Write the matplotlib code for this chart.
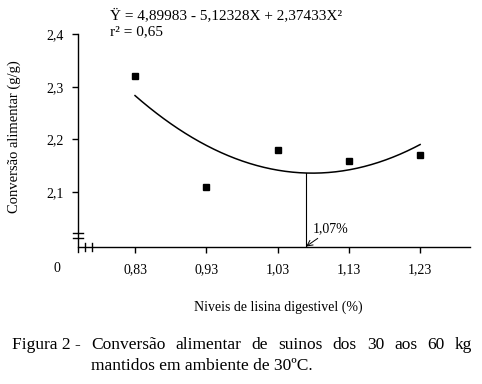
import matplotlib
matplotlib.use('Agg')
import matplotlib.pyplot as plt
import numpy as np

plt.rcParams['font.family'] = ['Liberation Serif', 'DejaVu Serif']

# dados
lisina = [0.83, 0.93, 1.03, 1.13, 1.23]
conversao = [2.32, 2.11, 2.18, 2.16, 2.17]
coef = [4.89983, -5.12328, 2.37433]   # Y = a + bX + cX^2
x_otimo = 1.07
xticks = [0.83, 0.93, 1.03, 1.13, 1.23]
xticklabels = ['0,83', '0,93', '1,03', '1,13', '1,23']
yticks = [2.1, 2.2, 2.3, 2.4]
yticklabels = ['2,1', '2,2', '2,3', '2,4']

W, H = 482, 384
fig = plt.figure(figsize=(W / 100, H / 100), dpi=100)
ax = fig.add_axes([78 / W, 137 / H, 392 / W, 213 / H])

ax.plot(lisina, conversao, 's', color='black', markersize=4.5)
xs = np.linspace(0.83, 1.23, 200)
ys = coef[0] + coef[1] * xs + coef[2] * xs ** 2
ax.plot(xs, ys, color='black', lw=1.1)
y_min = coef[0] + coef[1] * x_otimo + coef[2] * x_otimo ** 2
ax.plot([x_otimo, x_otimo], [1.996, y_min], color='black', lw=0.8)

ax.set_xlim(0.75, 1.30)
ax.set_ylim(1.996, 2.4)
ax.set_xticks(xticks)
ax.set_xticklabels(xticklabels)
ax.set_yticks(yticks)
ax.set_yticklabels(yticklabels)
ax.tick_params(direction='out', length=4, width=1, labelsize=10)
ax.tick_params(axis='x', pad=8)
ax.tick_params(axis='y', pad=6)
for s in ['top', 'right']:
    ax.spines[s].set_visible(False)
for s in ['left', 'bottom']:
    ax.spines[s].set_linewidth(1.0)
ax.spines['left'].set_bounds(1.987, 2.4)

ax.annotate('1,07%', xy=(x_otimo, 1.997), xytext=(x_otimo + 0.01, 2.03),
            fontsize=10, va='center',
            arrowprops=dict(arrowstyle='->', lw=0.7, color='black',
                            shrinkA=0, shrinkB=0))

# marcas de quebra dos eixos
trans = ax.transAxes
for yy in [0.066, 0.043]:
    ax.plot([-0.013, 0.013], [yy, yy], color='black', lw=1, transform=trans, clip_on=False)
for xx in [0.018, 0.036]:
    ax.plot([xx, xx], [-0.02, 0.02], color='black', lw=1, transform=trans, clip_on=False)
ax.text(-0.054, -0.1, '0', transform=trans, fontsize=10, ha='center', va='center')

ax.set_ylabel('Conversão alimentar (g/g)', fontsize=10.5)
ax.yaxis.set_label_coords(-0.145, 0.52)
fig.text(278 / W, 1 - 307 / H, 'Niveis de lisina digestivel (%)', fontsize=10,
         ha='center', va='center')

fig.text(110 / W, 1 - 15 / H, 'Ÿ = 4,89983 - 5,12328X + 2,37433X²', fontsize=11,
         va='center', ha='left')
fig.text(110 / W, 1 - 32 / H, 'r² = 0,65', fontsize=11, va='center', ha='left')

# legenda da figura (justificada)
fig.text(12 / W, 1 - 345 / H, 'Figura 2 -', fontsize=12.5, va='center', ha='left')
words = 'Conversão alimentar de suinos dos 30 aos 60 kg'.split()
fig.canvas.draw()
r = fig.canvas.get_renderer()
objs = [fig.text(0, 1 - 345 / H, w, fontsize=12.5, va='center', ha='left') for w in words]
widths = [o.get_window_extent(r).width for o in objs]
x0, x1 = 91, 472
gap = (x1 - x0 - sum(widths)) / (len(words) - 1)
x = x0
for o, w in zip(objs, widths):
    o.set_x(x / W)
    x += w + gap
fig.text(91 / W, 1 - 366 / H, 'mantidos em ambiente de 30ºC.', fontsize=12.5,
         va='center', ha='left')

fig.savefig('out.png', dpi=100)
